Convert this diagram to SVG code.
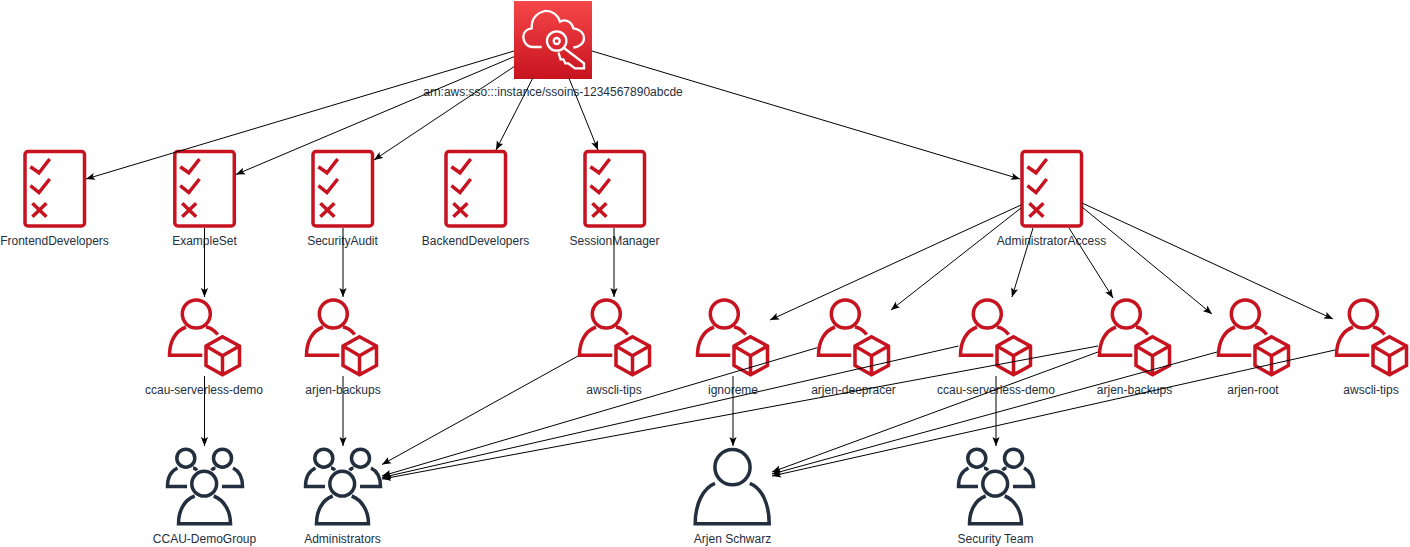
<svg xmlns="http://www.w3.org/2000/svg" xmlns:xlink="http://www.w3.org/1999/xlink" width="1410" height="547" viewBox="0 0 1410 547">
<style>
text{font-family:"Liberation Sans",Arial,sans-serif;font-size:12px;fill:#232F3E;text-anchor:middle}
.r{fill:none;stroke:#C7131F;stroke-width:3.500;stroke-linejoin:miter}
.d{fill:none;stroke:#232F3E;stroke-width:3.500}
.w{fill:none;stroke:#fff;stroke-width:2.300}
#edges line{stroke:#000;stroke-width:1;marker-end:url(#arrow)}
</style>
<defs>
<linearGradient id="tile" x1="0" y1="0" x2="0" y2="1"><stop offset="0" stop-color="#F54749"/><stop offset="1" stop-color="#C7131F"/></linearGradient>
<marker id="arrow" markerUnits="userSpaceOnUse" markerWidth="10" markerHeight="8" refX="9" refY="4" orient="auto"><path d="M9 4L0 .4L2 4L0 7.6Z" fill="#000"/></marker>
<g id="perm">
<rect class="r" x="1.300" y="1.500" width="59.500" height="74.500" rx="3"/>
<path class="r" d="M6.700 16.700L15.300 22.800L26 9M6.700 35.700L15.300 42.500L26 29M8.700 53.300L22.700 66.700M22.700 53.300L8.700 66.700"/>
</g>
<g id="user">
<circle class="r" cx="28.300" cy="14" r="14"/>
<path class="r" d="M34.300 55.300H1.500C1.500 42 7 31 18 27M38 27C42 27.500 46 30 49.700 34.500"/>
<path class="r" d="M54.500 36.800L71.500 46V65.500L54.500 74.800L38 65.500V46ZM38 46L54.500 55.700L71.500 46M54.500 55.700V74.800"/>
</g>
<g id="group">
<circle class="d" cx="19.800" cy="10.200" r="9"/>
<circle class="d" cx="56.500" cy="10.200" r="9"/>
<circle class="d" cx="38.200" cy="35.700" r="12.400"/>
<path class="d" d="M21 38.500H1.500C1.500 30 5 23 11.500 20M27 20C28.500 20 30 21 31 22.300"/>
<path class="d" d="M56 38.500H76.500C76.500 30 73 23 67 20M49.500 20C48 20 46.500 21 45.500 22.300"/>
<path class="d" d="M28.700 48C18 52 12.500 63 12.500 75.700H64.500C64.500 63 58 52 47.700 48"/>
</g>
<g id="person">
<circle class="d" cx="38.500" cy="19.200" r="17.600"/>
<path class="d" d="M21 35.300C9 40 1.200 56 1.200 75.700H75.200C75.200 56 68 40 55.800 35.300"/>
</g>
</defs>
<g id="sso">
<rect x="514" y="1" width="78" height="78" fill="url(#tile)"/>
<path class="w" d="M541.700 47H532C527 47 523.300 42 523.300 36.700C523.300 32 527 29 531.700 28.300C531.500 20 535 13.300 545 11C552 10.500 558 15 560 21.700C565 18.300 571.700 21.700 573.300 28.300C581 29.500 584 34 584 38C584 43 580 47 573.300 47.500"/>
<circle class="w" cx="556.700" cy="41" r="9.700"/>
<circle class="w" cx="556.700" cy="41" r="3"/>
<path class="w" d="M564 48L584 63.300V68.300H575L568.300 63.300H565.300L563.300 59.300H560.500L558.500 52.500"/>
<text x="553" y="96">arn:aws:sso:::instance/ssoins-1234567890abcde</text>
</g>
<g id="perm-frontend"><use href="#perm" x="23.700" y="150"/><text x="54.500" y="245">FrontendDevelopers</text></g>
<g id="perm-example"><use href="#perm" x="173.500" y="150"/><text x="204.500" y="245">ExampleSet</text></g>
<g id="perm-audit"><use href="#perm" x="311.700" y="150"/><text x="342.500" y="245">SecurityAudit</text></g>
<g id="perm-backend"><use href="#perm" x="444.700" y="150"/><text x="475.500" y="245">BackendDevelopers</text></g>
<g id="perm-session"><use href="#perm" x="583.700" y="150"/><text x="614.500" y="245">SessionManager</text></g>
<g id="perm-admin"><use href="#perm" x="1020.700" y="150"/><text x="1051.500" y="245">AdministratorAccess</text></g>
<g id="acct-ccau1"><use href="#user" x="168" y="300"/><text x="204" y="394">ccau-serverless-demo</text></g>
<g id="acct-backups1"><use href="#user" x="305" y="300"/><text x="343" y="394">arjen-backups</text></g>
<g id="acct-awscli1"><use href="#user" x="578" y="300"/><text x="614" y="394">awscli-tips</text></g>
<g id="acct-ignoreme"><use href="#user" x="696" y="300"/><text x="733" y="394">ignoreme</text></g>
<g id="acct-deepracer"><use href="#user" x="817" y="300"/><text x="853.500" y="394">arjen-deepracer</text></g>
<g id="acct-ccau2"><use href="#user" x="959" y="300"/><text x="996" y="394">ccau-serverless-demo</text></g>
<g id="acct-backups2"><use href="#user" x="1098" y="300"/><text x="1134.500" y="394">arjen-backups</text></g>
<g id="acct-root"><use href="#user" x="1217" y="300"/><text x="1253" y="394">arjen-root</text></g>
<g id="acct-awscli2"><use href="#user" x="1335" y="300"/><text x="1371" y="394">awscli-tips</text></g>
<g id="group-ccau"><use href="#group" x="166" y="448"/><text x="204.500" y="543">CCAU-DemoGroup</text></g>
<g id="group-admins"><use href="#group" x="304" y="448"/><text x="342.500" y="543">Administrators</text></g>
<g id="user-arjen"><use href="#person" x="694" y="448"/><text x="732.500" y="543">Arjen Schwarz</text></g>
<g id="group-security"><use href="#group" x="957" y="448"/><text x="995.500" y="543">Security Team</text></g>
<g id="edges">
<line x1="514" y1="51" x2="86" y2="179"/>
<line x1="514" y1="56.700" x2="236" y2="174.500"/>
<line x1="514" y1="66.700" x2="374" y2="160"/>
<line x1="532.700" y1="78.300" x2="496" y2="150"/>
<line x1="569" y1="78.300" x2="598" y2="150"/>
<line x1="592" y1="51" x2="1020" y2="179"/>
<line x1="204.500" y1="228" x2="204.500" y2="297"/>
<line x1="343" y1="228" x2="343" y2="297"/>
<line x1="614" y1="228" x2="614" y2="297"/>
<line x1="1021" y1="205" x2="770" y2="320"/>
<line x1="1021" y1="208" x2="891" y2="310"/>
<line x1="1033" y1="228" x2="1012" y2="297"/>
<line x1="1069" y1="228" x2="1113" y2="298"/>
<line x1="1082" y1="207" x2="1212" y2="314"/>
<line x1="1082" y1="203" x2="1333" y2="319"/>
<line x1="204.500" y1="376" x2="204.500" y2="446"/>
<line x1="343" y1="376" x2="343" y2="446"/>
<line x1="578" y1="356" x2="382" y2="464.500"/>
<line x1="817.300" y1="347.700" x2="382" y2="476"/>
<line x1="958.500" y1="346" x2="382" y2="477.500"/>
<line x1="1098" y1="346" x2="382" y2="479"/>
<line x1="733" y1="376" x2="733" y2="446"/>
<line x1="996" y1="376" x2="996" y2="446"/>
<line x1="1098" y1="352" x2="772" y2="472"/>
<line x1="1217" y1="352" x2="772" y2="474"/>
<line x1="1335" y1="350" x2="772" y2="476"/>
</g>
</svg>
